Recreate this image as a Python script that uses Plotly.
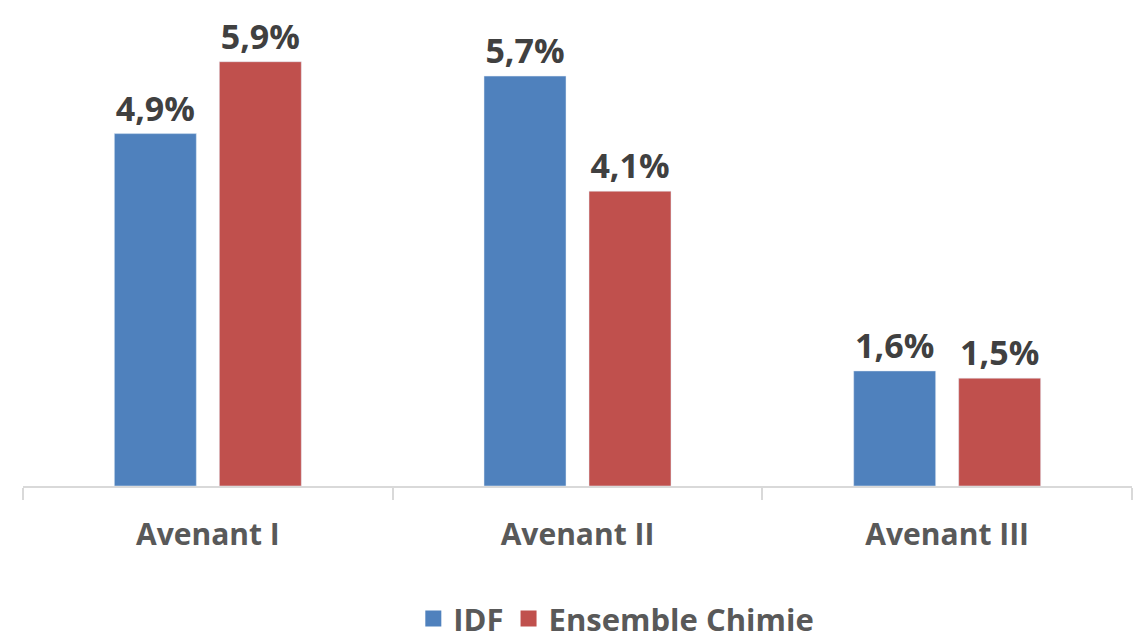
import plotly.graph_objects as go

categories = ["Avenant I", "Avenant II", "Avenant III"]
idf = [4.9, 5.7, 1.6]
chimie = [5.9, 4.1, 1.5]
series_names = ["IDF", "Ensemble Chimie"]
colors = ["#4F81BD", "#C0504D"]

FONT = "'Open Sans', sans-serif"

fig = go.Figure()
for name, vals, col in zip(series_names, [idf, chimie], colors):
    fig.add_trace(go.Bar(
        x=categories, y=vals, name=name, marker_color=col, showlegend=False,
        texttemplate="%{y:.1f}%", textposition="outside", cliponaxis=False,
        textfont=dict(family=FONT, size=34, color="#404040", weight="bold"),
    ))
for name, col in zip(series_names, colors):
    fig.add_trace(go.Scatter(
        x=[None], y=[None], mode="markers", name=name,
        marker=dict(symbol="square", size=20, color=col),
    ))

fig.update_layout(
    width=1138, height=644,
    margin=dict(l=23, r=6, t=20, b=158, autoexpand=False),
    paper_bgcolor="white", plot_bgcolor="white",
    barmode="group", bargap=0.432, bargroupgap=0.219,
    separators=", ",
    showlegend=True,
    legend=dict(orientation="h", x=0.535, xanchor="center", y=-0.285, yanchor="middle",
                font=dict(family=FONT, size=31, color="#595959", weight="bold"),
                itemwidth=30, traceorder="normal", itemsizing="trace"),
    xaxis=dict(showline=True, linecolor="#d9d9d9", linewidth=2, automargin=False,
               ticks="outside", tickson="boundaries", ticklen=12, tickcolor="#d9d9d9", tickwidth=2,
               tickfont=dict(family=FONT, size=30, color="#595959", weight="bold"),
               ticklabelstandoff=21),
    yaxis=dict(range=[0, 6.48], visible=False, showgrid=False, zeroline=False, automargin=False),
)

fig.write_html("out.html", config={"displayModeBar": False},
               post_script="document.body.style.margin='0';")
